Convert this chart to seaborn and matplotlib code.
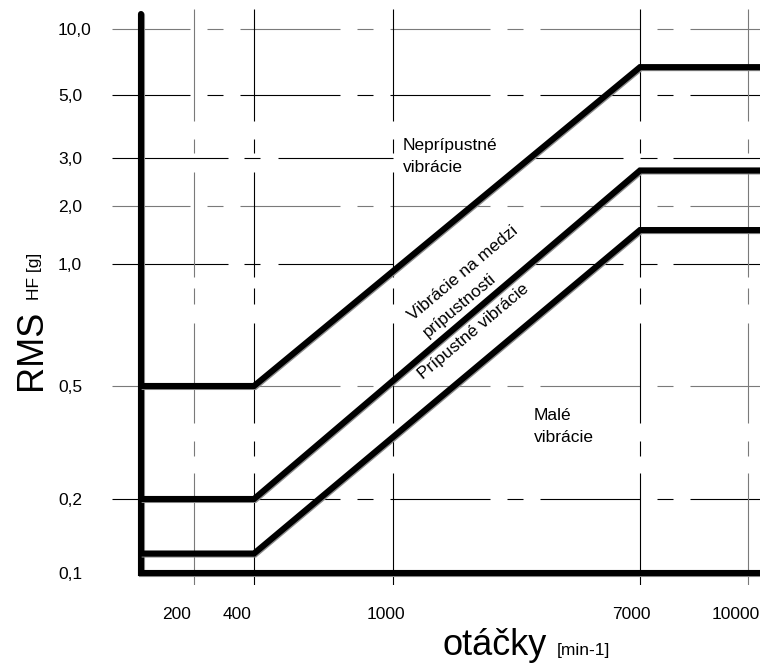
import numpy as np
import pandas as pd
import matplotlib
matplotlib.use("Agg")
import matplotlib.pyplot as plt
import matplotlib.patheffects as pe
from matplotlib.transforms import ScaledTranslation
import seaborn as sns

# otáčky [min-1] at the corners of the limit lines
RPM = [100, 400, 7000, 11000]
# zone boundaries, RMS HF [g]
LIMIT_NEPRIPUSTNE = [0.5, 0.5, 6.7, 6.7]
LIMIT_MEDZI = [0.2, 0.2, 2.7, 2.7]
LIMIT_PRIPUSTNE = [0.12, 0.12, 1.5, 1.5]

X_TICKS = [200, 400, 1000, 7000, 10000]
X_TICK_LABELS = ["200", "400", "1000", "7000", "10000"]
Y_TICKS = [0.1, 0.2, 0.5, 1.0, 2.0, 3.0, 5.0, 10.0]
Y_TICK_LABELS = ["0,1", "0,2", "0,5", "1,0", "2,0", "3,0", "5,0", "10,0"]

X_MIN, X_MAX = 70, 11000
Y_MIN, Y_MAX = 0.09, 12
FRAME_RPM = 100
FRAME_TOP = 11.5

# the hand drawn axes are not truly logarithmic: pixel anchors of each tick
X_ANCHOR_VAL = [70, 100, 200, 400, 1000, 7000, 10000, 11000]
X_ANCHOR_PX = [112, 140.7, 194, 254, 393, 640, 748, 760]
Y_ANCHOR_VAL = [0.09, 0.1, 0.2, 0.5, 1, 2, 3, 5, 10, 12]
Y_ANCHOR_PX = [585, 573, 499, 386, 264, 206, 158, 95, 29, 9]

W, H = 760, 666
P = 72 / 100  # px -> pt


def make_scale(vals, pxs, flip=False):
    lv = np.log10(np.asarray(vals, float))
    p = np.asarray(pxs, float) * (-1 if flip else 1)
    order = np.argsort(p)

    def fwd(v):
        v = np.clip(np.asarray(v, float), 1e-9, None)
        return np.interp(np.log10(v), lv, p)

    def inv(u):
        return 10 ** np.interp(np.asarray(u, float), p[order], lv[order])

    return fwd, inv


def dash(offset, seq):
    return (offset * P, tuple(s * P for s in seq))


def fxy(x, y):
    return x / W, 1 - y / H


sns.set_theme(style="white")
plt.rcParams["font.family"] = ["Liberation Sans", "DejaVu Sans"]
plt.rcParams["lines.scale_dashes"] = False
plt.rcParams["text.color"] = "black"

fig = plt.figure(figsize=(W / 100, H / 100), dpi=100)
ax = fig.add_axes([112 / W, 1 - 585 / H, (760 - 112) / W, (585 - 9) / H])
ax.set_xscale("function", functions=make_scale(X_ANCHOR_VAL, X_ANCHOR_PX))
ax.set_yscale("function", functions=make_scale(Y_ANCHOR_VAL, Y_ANCHOR_PX, flip=True))
ax.set_xlim(X_MIN, X_MAX)
ax.set_ylim(Y_MIN, Y_MAX)
for s in ax.spines.values():
    s.set_visible(False)

# grid, dash-dot like in the original drawing
dash_a = dash(22, (100, 17, 16, 17))
dash_b = dash(0, (116, 16, 16, 18, 115, 140, 90, 17, 17, 16, 200))
dash_v = dash(0, (112, 18, 14, 19, 105, 11, 16, 19, 100, 18, 15, 17, 113))
gray, black = "#7a7a7a", "#000000"
h_grid = {0.2: (black, dash_a), 0.5: (gray, dash_a), 1.0: (black, dash_b),
          2.0: (gray, dash_a), 3.0: (black, dash_b), 5.0: (black, dash_a),
          10.0: (gray, dash_a)}
for val, (col, ls) in h_grid.items():
    ax.plot([X_MIN, X_MAX], [val, val], color=col, lw=0.8, linestyle=ls, zorder=1)
v_colors = [gray, black, black, black, gray]
for val, col in zip(X_TICKS, v_colors):
    ax.plot([val, val], [Y_MAX, Y_MIN], color=col, lw=0.8, linestyle=dash_v, zorder=1)

shadow = [pe.SimpleLineShadow(offset=(0.7, -0.7), shadow_color="0.55", alpha=1.0),
          pe.Normal()]

n0 = len(ax.lines)
# axis frame (thick L), under the limit lines
sns.lineplot(x=[FRAME_RPM, FRAME_RPM, X_MAX], y=[FRAME_TOP, Y_TICKS[0], Y_TICKS[0]],
             estimator=None, sort=False, color="black", lw=4.4,
             solid_joinstyle="miter", solid_capstyle="round", ax=ax, zorder=2)

limits = pd.DataFrame({
    "rpm": RPM * 3,
    "rms": LIMIT_NEPRIPUSTNE + LIMIT_MEDZI + LIMIT_PRIPUSTNE,
    "limit": ["nepripustne"] * 4 + ["medzi"] * 4 + ["pripustne"] * 4,
})
sns.lineplot(data=limits, x="rpm", y="rms", units="limit", estimator=None,
             sort=False, color="black", lw=4.4, solid_joinstyle="miter",
             solid_capstyle="butt", ax=ax, zorder=3)
for line in ax.lines[n0:]:
    line.set_path_effects(shadow)
ax.set_xlabel("")
ax.set_ylabel("")

# ticks
ax.set_xticks(X_TICKS, X_TICK_LABELS)
ax.set_yticks(Y_TICKS, Y_TICK_LABELS)
ax.minorticks_off()
ax.tick_params(axis="x", length=0, pad=15.5, labelsize=12.5, colors="black")
ax.tick_params(axis="y", length=0, pad=54 * P, labelsize=12.5, colors="black")
for lab in ax.get_yticklabels():
    lab.set_horizontalalignment("left")
x_label_shift = [-17, -17, -7, -9, -12]
for lab, dx in zip(ax.get_xticklabels(), x_label_shift):
    lab.set_transform(lab.get_transform() + ScaledTranslation(dx / 100, 0, fig.dpi_scale_trans))

# zone labels (multi-line text is anchored on its last baseline)
fig.text(*fxy(403, 172), "Neprípustné\nvibrácie", fontsize=12.5, ha="left",
         va="baseline", linespacing=1.6)
fig.text(*fxy(534, 442), "Malé\nvibrácie", fontsize=12.5, ha="left",
         va="baseline", linespacing=1.55)
fig.text(*fxy(423, 332), "Vibrácie na medzi\nprípustnosti", fontsize=12.5,
         rotation=40, rotation_mode="anchor", ha="left", va="baseline",
         multialignment="left", linespacing=1.65)
fig.text(*fxy(423, 380), "Prípustné vibrácie", fontsize=12.5, rotation=40,
         rotation_mode="anchor", ha="left", va="baseline")

# axis titles
fig.text(*fxy(442, 655), "otáčky", fontsize=26, ha="left", va="baseline")
fig.text(*fxy(557, 655), "[min-1]", fontsize=12.5, ha="left", va="baseline")
fig.text(*fxy(41, 390), "RMS", fontsize=26, rotation=90, rotation_mode="anchor",
         ha="left", va="baseline")
fig.text(*fxy(39.5, 300), "HF [g]", fontsize=12.5, rotation=90,
         rotation_mode="anchor", ha="left", va="baseline")

fig.savefig("out.png", dpi=100, facecolor="white")
